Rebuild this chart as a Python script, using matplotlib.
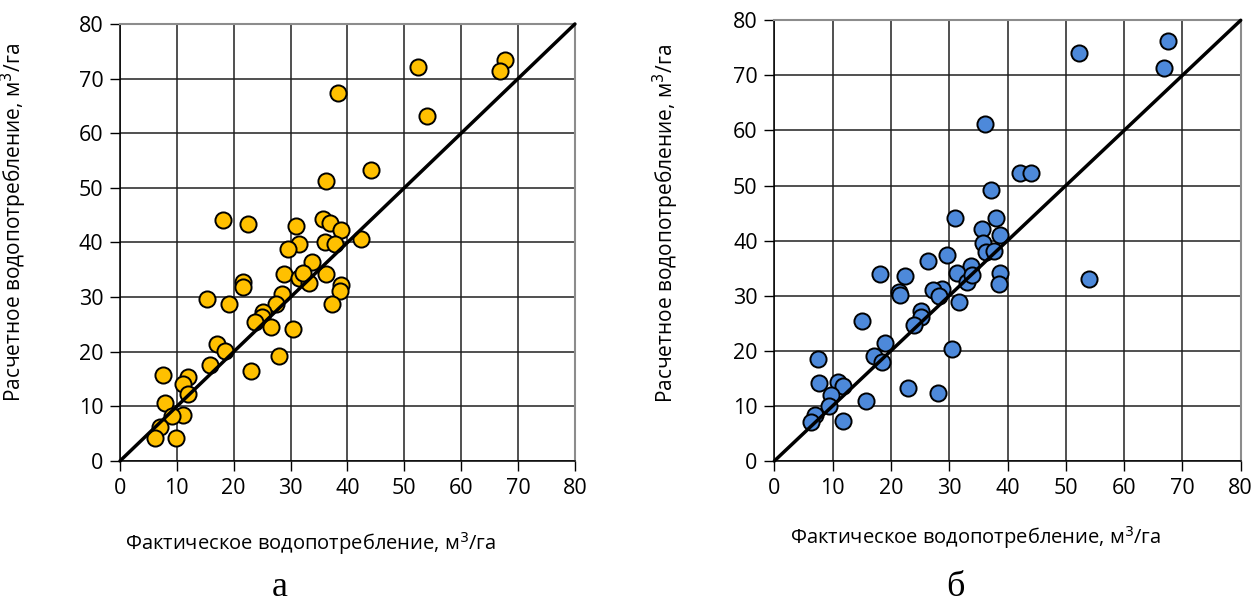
import numpy as np
import matplotlib
matplotlib.use("Agg")
import matplotlib.pyplot as plt

plt.rcParams['font.family'] = ['Open Sans', 'DejaVu Sans']

# panel "а": actual vs calculated water use, m3/ha
fact_a = [67.7, 66.8, 52.4, 54.0, 38.3, 44.1, 36.3, 18.2, 22.5, 31.0,
          35.7, 37.0, 38.9, 42.3, 36.0, 37.8, 31.5, 29.5, 33.8, 28.8,
          31.5, 33.2, 32.1, 36.3, 38.9, 38.7, 37.3, 21.6, 21.7, 15.3,
          19.2, 28.5, 27.4, 25.2, 25.0, 23.7, 26.5, 30.5, 27.9, 23.0,
          17.1, 18.4, 15.8, 7.6, 11.9, 11.0, 11.9, 8.0, 11.0, 9.2,
          7.1, 6.2, 9.9]
calc_a = [73.4, 71.4, 72.2, 63.2, 67.3, 53.3, 51.2, 44.1, 43.3, 43.0,
          44.3, 43.6, 42.2, 40.7, 40.1, 39.7, 39.8, 38.8, 36.5, 34.2,
          33.5, 32.5, 34.4, 34.2, 32.2, 31.2, 28.7, 32.8, 31.9, 29.7,
          28.8, 30.5, 28.8, 27.3, 26.4, 25.5, 24.6, 24.2, 19.3, 16.4,
          21.4, 20.2, 17.6, 15.7, 15.4, 14.1, 12.3, 10.6, 8.4, 8.3,
          6.3, 4.2, 4.2]

# panel "б"
fact_b = [36.1, 37.1, 31.0, 38.1, 35.7, 38.7, 35.8, 52.3, 67.6, 66.9,
          42.1, 44.1, 54.0, 36.3, 37.7, 38.7, 38.6, 29.6, 26.3, 33.7,
          31.3, 33.0, 33.9, 28.7, 27.2, 28.2, 31.7, 18.1, 22.4, 21.4,
          21.6, 25.1, 25.1, 24.0, 15.1, 30.4, 19.0, 17.1, 18.4, 23.0,
          28.0, 7.5, 7.7, 11.0, 11.7, 9.8, 9.4, 15.7, 11.7, 7.0, 6.3]
calc_b = [61.1, 49.2, 44.2, 44.2, 42.1, 41.1, 39.6, 74.1, 76.2, 71.3,
          52.2, 52.2, 33.0, 38.0, 38.2, 34.2, 32.2, 37.4, 36.3, 35.4,
          34.1, 32.5, 33.8, 31.3, 31.0, 30.0, 28.8, 33.9, 33.5, 30.6,
          30.2, 27.3, 26.2, 24.7, 25.5, 20.3, 21.5, 19.1, 18.0, 13.2,
          12.3, 18.5, 14.2, 14.4, 13.6, 11.9, 9.9, 10.8, 7.3, 8.3, 7.0]

ticks = np.arange(0, 81, 10)
xlabel = 'Фактическое водопотребление, м$^3$/га'
ylabel = 'Расчетное водопотребление, м$^3$/га'

fig = plt.figure(figsize=(12.55, 6.06), dpi=100)
ax_a = fig.add_axes([0.0956, 0.2393, 0.3625, 0.7211])
ax_b = fig.add_axes([0.617, 0.2393, 0.3716, 0.7272])


def draw_panel(ax, x, y, color, xlab_pos, ylab_pos):
    ax.set_xlim(0, 80)
    ax.set_ylim(0, 80)
    ax.set_xticks(ticks)
    ax.set_yticks(ticks)
    ax.grid(True, color='#202020', linewidth=1.1)
    ax.set_axisbelow(True)
    ax.scatter(x, y, s=135, color=color, edgecolors='black', linewidths=1.4,
               zorder=3, clip_on=False)
    ax.plot([0, 80], [0, 80], color='black', linewidth=2.5,
            solid_capstyle='round', zorder=4, clip_on=False)
    for side in ('top', 'right'):
        ax.spines[side].set_color('#8c8c8c')
        ax.spines[side].set_linewidth(1.5)
    for side in ('left', 'bottom'):
        ax.spines[side].set_color('black')
        ax.spines[side].set_linewidth(1.1)
    ax.tick_params(direction='out', length=7, width=1.0, labelsize=15.5,
                   pad=5)
    ax.set_xlabel(xlabel, fontsize=14.5)
    ax.set_ylabel(ylabel, fontsize=15)
    ax.xaxis.set_label_coords(*xlab_pos)
    ax.yaxis.set_label_coords(*ylab_pos)


draw_panel(ax_a, fact_a, calc_a, '#FFC000', (0.418, -0.158), (-0.2, 0.545))
draw_panel(ax_b, fact_b, calc_b, '#4D89DA', (0.432, -0.143), (-0.2, 0.54))

# panel captions
fig.text(280 / 1255, 1 - 596 / 606, 'а', family='Liberation Serif',
         fontsize=26, ha='center', va='baseline')
fig.text(955 / 1255, 1 - 596 / 606, 'б', family='Liberation Serif',
         fontsize=26, ha='center', va='baseline')

fig.savefig('out.png', dpi=100)
